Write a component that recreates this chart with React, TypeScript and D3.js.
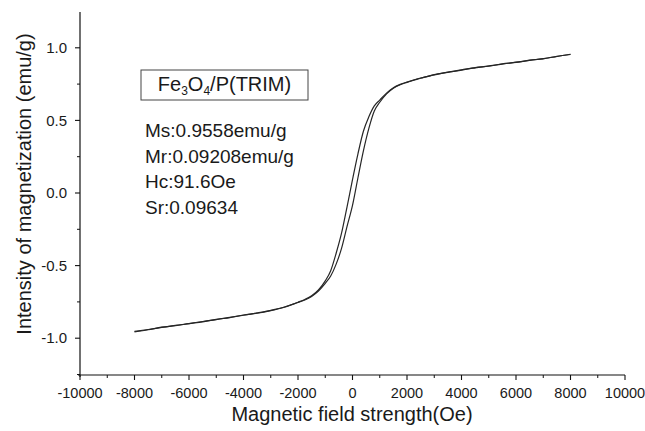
import React from "react";
import * as d3 from "d3";

const fieldOe = [-8000,-7500,-7000,-6500,-6000,-5500,-5000,-4500,-4000,-3500,-3000,-2500,-2000,-1750,-1500,-1250,-1000,-800,-600,-400,-200,0,200,400,600,800,1000,1250,1500,1750,2000,2500,3000,3500,4000,4500,5000,5500,6000,6500,7000,7500,8000];

const descendingBranch = [-0.953,-0.940,-0.926,-0.912,-0.899,-0.885,-0.872,-0.857,-0.842,-0.826,-0.808,-0.785,-0.752,-0.733,-0.708,-0.668,-0.605,-0.535,-0.415,-0.275,-0.095,0.092,0.270,0.425,0.525,0.600,0.640,0.688,0.725,0.748,0.764,0.790,0.815,0.831,0.848,0.862,0.875,0.888,0.901,0.913,0.926,0.940,0.956];

const ascendingBranch = [-0.956,-0.942,-0.924,-0.914,-0.900,-0.887,-0.870,-0.858,-0.840,-0.828,-0.810,-0.787,-0.754,-0.737,-0.712,-0.675,-0.622,-0.572,-0.490,-0.380,-0.230,-0.085,0.105,0.290,0.445,0.565,0.625,0.683,0.722,0.746,0.762,0.792,0.813,0.833,0.846,0.864,0.873,0.890,0.899,0.915,0.924,0.941,0.954];

const xTickValues = [-10000,-8000,-6000,-4000,-2000,0,2000,4000,6000,8000,10000];
const xMinorTicks = [-9000,-7000,-5000,-3000,-1000,1000,3000,5000,7000,9000];
const yTickValues = [-1.0,-0.5,0.0,0.5,1.0];
const yMinorTicks = [-1.25,-0.75,-0.25,0.25,0.75];

const legendTitle = { base1: "Fe", sub1: "3", base2: "O", sub2: "4", rest: "/P(TRIM)" };
const statLines = ["Ms:0.9558emu/g", "Mr:0.09208emu/g", "Hc:91.6Oe", "Sr:0.09634"];

const xTitle = "Magnetic field strength(Oe)";
const yTitle = "Intensity of magnetization (emu/g)";

const FONT = "'Liberation Sans', Arial, Helvetica, sans-serif";

export default function App() {
  const W = 645, H = 431;
  const x = d3.scaleLinear().domain([-10000, 10000]).range([80, 625]);
  const y = d3.scaleLinear().domain([-1.25, 1.25]).range([374.5, 11.5]);

  const line = d3
    .line<number>()
    .x((_, i) => x(fieldOe[i]))
    .y((d) => y(d))
    .curve(d3.curveMonotoneX);

  const axisY = 375;
  const axisX = 80;
  const textColor = "#1a1a1a";

  return (
    <svg
      width={W}
      height={H}
      style={{ position: "absolute", left: 0, top: 0, background: "#fff" }}
      fontFamily={FONT}
    >
      <rect x={0} y={0} width={W} height={H} fill="#fff" />

      {/* curves */}
      <path d={line(descendingBranch) || ""} fill="none" stroke="#262626" strokeWidth={1.2} />
      <path d={line(ascendingBranch) || ""} fill="none" stroke="#262626" strokeWidth={1.2} />

      {/* axes */}
      <line x1={axisX} x2={axisX} y1={12} y2={axisY + 2} stroke="#111" strokeWidth={1.2} />
      <line x1={axisX - 2} x2={x(10000)} y1={axisY} y2={axisY} stroke="#111" strokeWidth={1.2} />

      {xTickValues.map((v) => (
        <g key={"xt" + v}>
          <line x1={x(v)} x2={x(v)} y1={axisY} y2={axisY + 5} stroke="#111" strokeWidth={1.1} />
          <text x={x(v)} y={398} textAnchor="middle" fontSize={14.5} fill={textColor}>
            {v}
          </text>
        </g>
      ))}
      {xMinorTicks.map((v) => (
        <line key={"xm" + v} x1={x(v)} x2={x(v)} y1={axisY} y2={axisY + 3} stroke="#111" strokeWidth={1} />
      ))}

      {yTickValues.map((v) => (
        <g key={"yt" + v}>
          <line x1={axisX - 5} x2={axisX} y1={y(v)} y2={y(v)} stroke="#111" strokeWidth={1.1} />
          <text x={67} y={y(v)} dy="0.35em" textAnchor="end" fontSize={15} fill={textColor}>
            {v.toFixed(1)}
          </text>
        </g>
      ))}
      {yMinorTicks.map((v) => (
        <line key={"ym" + v} x1={axisX - 3} x2={axisX} y1={y(v)} y2={y(v)} stroke="#111" strokeWidth={1} />
      ))}

      {/* axis titles */}
      <text x={352} y={421} textAnchor="middle" fontSize={20} fill={textColor}>
        {xTitle}
      </text>
      <text
        transform="translate(31,184) rotate(-90)"
        textAnchor="middle"
        fontSize={20}
        fill={textColor}
      >
        {yTitle}
      </text>

      {/* legend box */}
      <rect x={141} y={70} width={167} height={30} fill="#fff" stroke="#444" strokeWidth={1} />
      <text x={224.5} y={91} textAnchor="middle" fontSize={20} fill={textColor}>
        <tspan>{legendTitle.base1}</tspan>
        <tspan fontSize={12} dy={4}>{legendTitle.sub1}</tspan>
        <tspan dy={-4}>{legendTitle.base2}</tspan>
        <tspan fontSize={12} dy={4}>{legendTitle.sub2}</tspan>
        <tspan dy={-4}>{legendTitle.rest}</tspan>
      </text>

      {statLines.map((s, i) => (
        <text key={s} x={145} y={137 + i * 25.6} fontSize={19} fill={textColor}>
          {s}
        </text>
      ))}
    </svg>
  );
}
